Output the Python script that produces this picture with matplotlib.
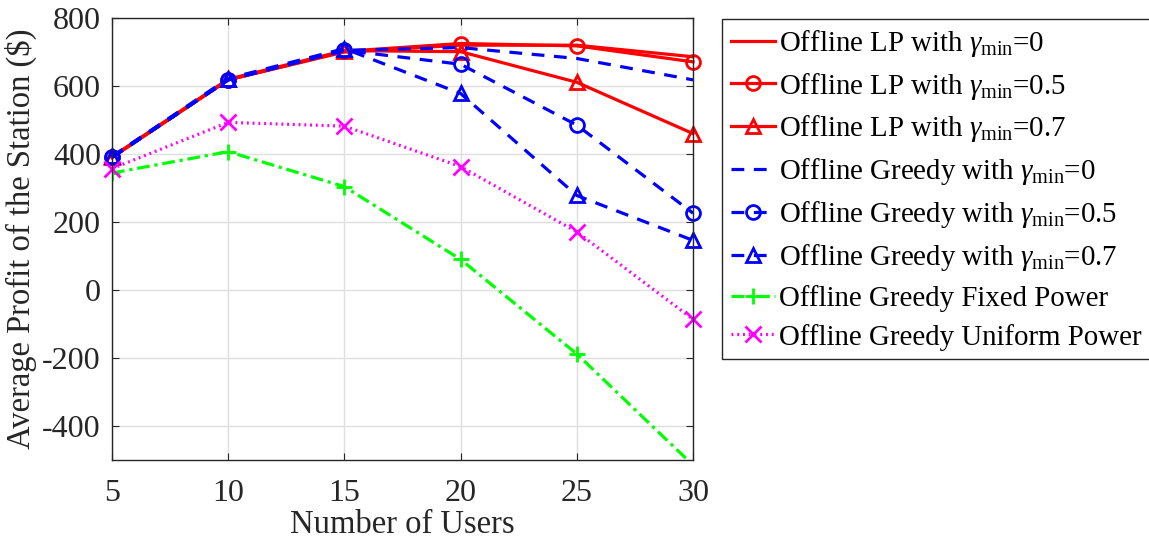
import matplotlib
matplotlib.use("Agg")
import matplotlib.pyplot as plt

plt.rcParams['font.family'] = ['Liberation Serif', 'DejaVu Serif']
plt.rcParams['mathtext.fontset'] = 'custom'
plt.rcParams['mathtext.rm'] = 'Liberation Serif'
plt.rcParams['mathtext.it'] = 'Liberation Serif:italic'
plt.rcParams['axes.unicode_minus'] = False

users = [5, 10, 15, 20, 25, 30]
lp_g0 = [390, 618, 700, 720, 720, 686]
lp_g05 = [390, 618, 702, 725, 718, 671]
lp_g07 = [392, 620, 704, 701, 611, 460]
greedy_g0 = [390, 618, 705, 713, 681, 618]
greedy_g05 = [390, 618, 705, 664, 485, 226]
greedy_g07 = [393, 622, 710, 578, 278, 146]
greedy_fixed = [344, 407, 304, 90, -188, -515]
greedy_uniform = [357, 493, 482, 363, 171, -86]

labels = [r'Offline LP with $\gamma_{\rm min}$=0',
          r'Offline LP with $\gamma_{\rm min}$=0.5',
          r'Offline LP with $\gamma_{\rm min}$=0.7',
          r'Offline Greedy with $\gamma_{\rm min}$=0',
          r'Offline Greedy with $\gamma_{\rm min}$=0.5',
          r'Offline Greedy with $\gamma_{\rm min}$=0.7',
          'Offline Greedy Fixed Power',
          'Offline Greedy Uniform Power']
xticks = [5, 10, 15, 20, 25, 30]
yticks = [-400, -200, 0, 200, 400, 600, 800]
ylim = (-500, 800)

fig = plt.figure(figsize=(11.49, 5.42), dpi=100)
ax = fig.add_axes([112/1149, 1-460/542, (693-112)/1149, (460-18)/542])

lw = 2.3
ms = 10
mew = 2
red = '#FF0000'; blue = '#0000FF'; green = '#00FF00'; mag = '#FF00FF'
series = [
    (lp_g0, red, '-', None),
    (lp_g05, red, '-', 'o'),
    (lp_g07, red, '-', '^'),
    (greedy_g0, blue, (0, (4, 3)), None),
    (greedy_g05, blue, (0, (4, 3)), 'o'),
    (greedy_g07, blue, (0, (4, 3)), '^'),
    (greedy_fixed, green, (0, (4, 1.5, 1, 1.5)), '+'),
    (greedy_uniform, mag, (0, (0.6, 1.2)), 'x'),
]
for (vals, c, ls, mk), lab in zip(series, labels):
    inside = [i for i, v in enumerate(vals) if ylim[0] <= v <= ylim[1]]
    all_in = len(inside) == len(vals)
    ln, = ax.plot(users, vals, color=c, linestyle=ls, marker=mk, lw=lw,
                  markersize=ms if mk not in ('+', 'x') else 12, markeredgewidth=mew,
                  markerfacecolor='none', label=lab, markevery=inside)
    ln.set_clip_on(not all_in)

ax.set_xlim(5, 30)
ax.set_ylim(*ylim)
ax.set_xticks(xticks)
ax.set_yticks(yticks)
ax.grid(True, color='#DFDFDF', linewidth=1)
ax.set_axisbelow(True)
ax.tick_params(direction='in', top=True, right=True, labelsize=23, length=5,
               color='#262626')
ax.tick_params(axis='y', pad=8)
ax.tick_params(axis='x', pad=14)
for s in ax.spines.values():
    s.set_color('#262626')
    s.set_linewidth(1)
ax.set_xlabel('Number of Users', fontsize=23.5, color='#262626', labelpad=1)
ax.set_ylabel('Average Profit of the Station ($)', fontsize=23.5, color='#262626', labelpad=4)
for t in ax.get_xticklabels() + ax.get_yticklabels():
    t.set_color('#262626')

leg = fig.legend(loc='upper left', bbox_to_anchor=(722/1149, 1-19/542),
                 fontsize=20.8, handlelength=1.55, handletextpad=0.12,
                 labelspacing=0.41, borderpad=0.3, borderaxespad=0,
                 frameon=True, fancybox=False, edgecolor='#262626',
                 framealpha=1)
leg.get_frame().set_linewidth(1)

fig.savefig('out.png', dpi=100)
